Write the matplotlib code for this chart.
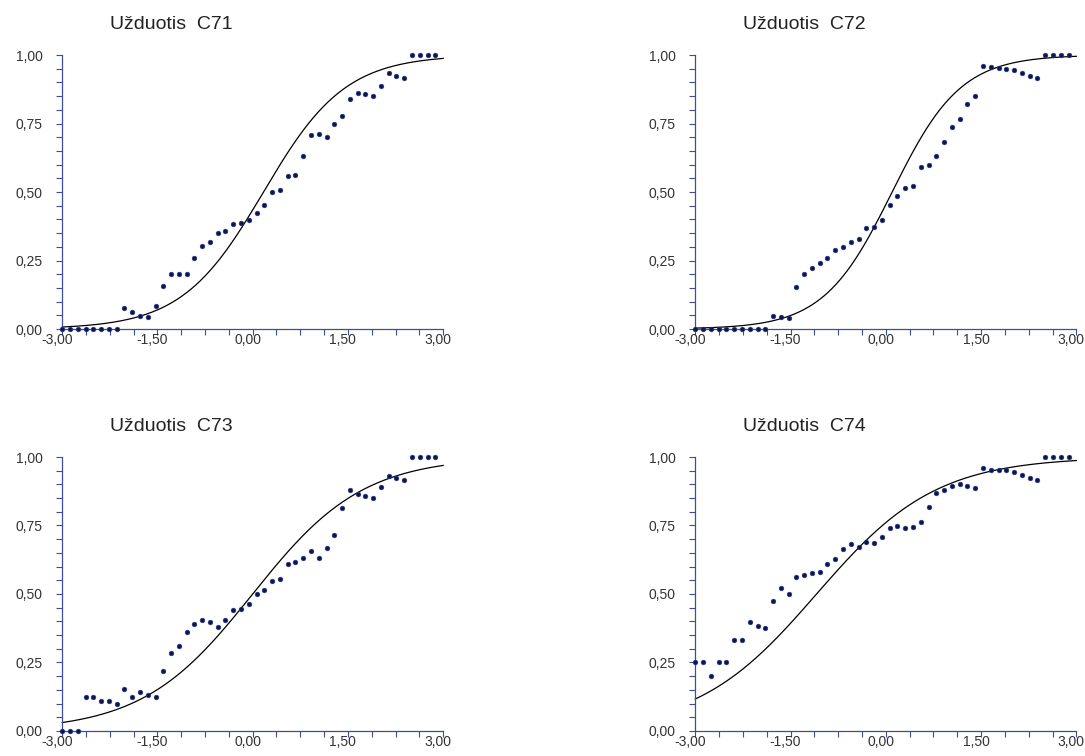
import numpy as np
import matplotlib
matplotlib.use("Agg")
from matplotlib import pyplot as plt
from matplotlib.ticker import FuncFormatter, MultipleLocator
import matplotlib.transforms as mtransforms

plt.rcParams['font.family'] = ['Liberation Sans', 'DejaVu Sans']
plt.rcParams['axes.unicode_minus'] = False

# ability grid (49 points)
theta = [-3.000, -2.878, -2.755, -2.633, -2.510, -2.388, -2.265, -2.143, -2.020,
         -1.898, -1.776, -1.653, -1.531, -1.408, -1.286, -1.163, -1.041, -0.918,
         -0.796, -0.673, -0.551, -0.429, -0.306, -0.184, -0.061, 0.061, 0.184,
         0.306, 0.429, 0.551, 0.673, 0.796, 0.918, 1.041, 1.163, 1.286, 1.408,
         1.531, 1.653, 1.776, 1.898, 2.020, 2.143, 2.265, 2.388, 2.510, 2.633,
         2.755, 2.878]

c71 = [0, 0, 0, 0, 0, 0, 0, 0,
       0.077, 0.062, 0.047, 0.044, 0.083, 0.156, 0.200, 0.200, 0.200, 0.258,
       0.304, 0.316, 0.349, 0.359, 0.382, 0.387, 0.399, 0.423, 0.453, 0.499,
       0.507, 0.558, 0.563, 0.630, 0.707, 0.710, 0.700, 0.749, 0.777, 0.839,
       0.863, 0.858, 0.849, 0.888, 0.933, 0.922, 0.916, 1, 1, 1, 1]
c72 = [0, 0, 0, 0, 0, 0, 0, 0, 0, 0,
       0.047, 0.044, 0.041, 0.154, 0.200, 0.221, 0.240, 0.258, 0.287, 0.299,
       0.318, 0.327, 0.367, 0.372, 0.399, 0.454, 0.484, 0.516, 0.523, 0.592,
       0.599, 0.630, 0.682, 0.736, 0.765, 0.821, 0.852, 0.960, 0.955, 0.951,
       0.950, 0.944, 0.933, 0.922, 0.916, 1, 1, 1, 1]
c73 = [0, 0, 0,
       0.125, 0.125, 0.111, 0.111, 0.100, 0.153, 0.125, 0.142, 0.130, 0.125,
       0.218, 0.286, 0.310, 0.360, 0.389, 0.406, 0.399, 0.381, 0.406, 0.440,
       0.447, 0.462, 0.500, 0.516, 0.549, 0.555, 0.609, 0.618, 0.630, 0.658,
       0.631, 0.667, 0.714, 0.814, 0.880, 0.864, 0.856, 0.849, 0.889, 0.932,
       0.922, 0.916, 1, 1, 1, 1]
c74 = [0.25, 0.25, 0.20, 0.25, 0.25, 0.333, 0.333, 0.399, 0.384, 0.375,
       0.476, 0.522, 0.500, 0.562, 0.571, 0.578, 0.579, 0.611, 0.628, 0.665,
       0.681, 0.672, 0.691, 0.686, 0.708, 0.742, 0.749, 0.741, 0.745, 0.763,
       0.818, 0.870, 0.878, 0.894, 0.900, 0.893, 0.888, 0.960, 0.954, 0.953,
       0.951, 0.944, 0.933, 0.922, 0.916, 1, 1, 1, 1]

items = ["C71", "C72", "C73", "C74"]
observed = [c71, c72, c73, c74]
# logistic item curve parameters (slope, location)
slopes = [1.55, 1.85, 1.15, 1.06]
locations = [0.17, 0.10, 0.00, -1.09]

# axes boxes in figure fractions
boxes = [
    (0.0574, 0.5648, 0.3510, 0.3624),
    (0.6408, 0.5648, 0.3512, 0.3624),
    (0.0574, 0.0331, 0.3510, 0.3624),
    (0.6408, 0.0331, 0.3512, 0.3624),
]

axis_col = "#3e4c9c"
text_col = "#333333"
dot_col = "#0c1650"

fig = plt.figure(figsize=(10.85, 7.56), dpi=100)

comma = FuncFormatter(lambda v, pos: ("%.2f" % v).replace(".", ","))
grid = np.linspace(-3, 3, 400)

for item, y, a, b, box in zip(items, observed, slopes, locations, boxes):
    ax = fig.add_axes(box)
    p = 1 / (1 + np.exp(-a * (grid - b)))
    ax.plot(grid, p, color="black", lw=0.9, clip_on=False)
    ax.plot(theta, y, "o", ms=3.4, color=dot_col, mec="#2a3a8a", mew=0.4,
            clip_on=False, zorder=3)

    ax.set_xlim(-3, 3)
    ax.set_ylim(0, 1)
    for s in ["top", "right"]:
        ax.spines[s].set_visible(False)
    for s in ["left", "bottom"]:
        ax.spines[s].set_color(axis_col)
        ax.spines[s].set_linewidth(0.9)

    ax.xaxis.set_major_locator(MultipleLocator(1.5))
    ax.xaxis.set_minor_locator(MultipleLocator(0.375))
    ax.yaxis.set_major_locator(MultipleLocator(0.25))
    ax.yaxis.set_minor_locator(MultipleLocator(0.05))
    ax.xaxis.set_major_formatter(comma)
    ax.yaxis.set_major_formatter(comma)
    ax.tick_params(which="both", direction="out", length=4.5, width=0.8,
                   color=axis_col, labelcolor=text_col, labelsize=10)
    ax.tick_params(axis="x", which="major", pad=-1.5)
    ax.tick_params(axis="y", which="major", pad=9.5)
    shift = mtransforms.ScaledTranslation(-5 / 100, 0, fig.dpi_scale_trans)
    for lab in ax.get_xticklabels():
        lab.set_transform(lab.get_transform() + shift)

    ax.text(0.125, 1.11, "Užduotis  " + item, transform=ax.transAxes,
            ha="left", va="center", fontsize=14, color="#222222")

fig.savefig("out.png", dpi=100)
